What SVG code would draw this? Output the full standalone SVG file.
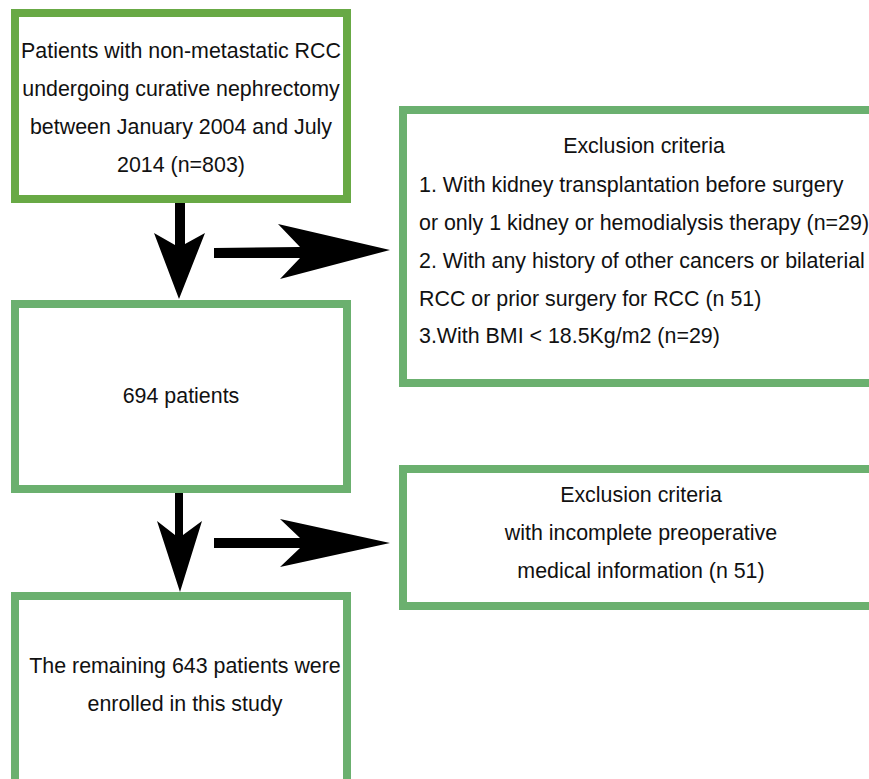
<svg xmlns="http://www.w3.org/2000/svg" width="869" height="779" viewBox="0 0 869 779">
<style>
.box{fill:#fff;stroke:#6bb06f;stroke-width:8}
.box1{fill:#fff;stroke:#68a945;stroke-width:8}
text{font-family:"Liberation Sans",Arial,sans-serif;font-size:21.4px;fill:#111}
.c{text-anchor:middle}
.arrow{fill:#000}
</style>
<rect width="869" height="779" fill="#fff"/>
<g id="node-start">
<rect class="box1" x="15" y="13" width="332" height="186"/>
<text class="c" x="181" y="58">Patients with non-metastatic RCC</text>
<text class="c" x="181" y="96">undergoing curative nephrectomy</text>
<text class="c" x="181" y="134">between January 2004 and July</text>
<text class="c" x="181" y="172">2014 (n=803)</text>
</g>
<g id="node-excl1">
<rect class="box" x="403" y="110" width="480" height="273"/>
<text class="c" x="644" y="153">Exclusion criteria</text>
<text x="419" y="192">1. With kidney transplantation before surgery</text>
<text x="419" y="230">or only 1 kidney or hemodialysis therapy (n=29)</text>
<text x="419" y="268">2. With any history of other cancers or bilaterial</text>
<text x="419" y="306">RCC or prior surgery for RCC (n 51)</text>
<text x="419" y="343">3.With BMI &lt; 18.5Kg/m2 (n=29)</text>
</g>
<g id="node-694">
<rect class="box" x="15" y="304" width="332" height="185"/>
<text class="c" x="181" y="403">694 patients</text>
</g>
<g id="node-excl2">
<rect class="box" x="403" y="469" width="480" height="137"/>
<text class="c" x="641" y="502">Exclusion criteria</text>
<text class="c" x="641" y="540">with incomplete preoperative</text>
<text class="c" x="641" y="578">medical information (n 51)</text>
</g>
<g id="node-final">
<rect class="box" x="15" y="596" width="332" height="200"/>
<text class="c" x="185" y="673">The remaining 643 patients were</text>
<text class="c" x="185" y="711">enrolled in this study</text>
</g>
<g id="connectors">
<polygon class="arrow" points="175,203 185,203 185,244 205,233 179,299 154,233 175,245"/>
<polygon class="arrow" points="214,248 300,247 278,224 390,250 280,279 300,258 214,258"/>
<polygon class="arrow" points="175,493 183,493 183,535 202,521 180,592 157,521 175,535"/>
<polygon class="arrow" points="214,538 300,538 280,519 390,543 280,567 300,548 214,548"/>
</g>
</svg>
